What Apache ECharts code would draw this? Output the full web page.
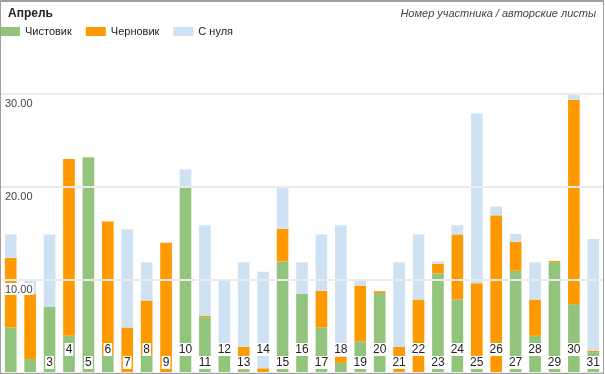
<!DOCTYPE html>
<html>
<head>
<meta charset="utf-8">
<script src="https://cdn.jsdelivr.net/npm/echarts@6/dist/echarts.min.js"></script>
<style>
html,body{margin:0;padding:0;background:#fff;}
#wrap{position:relative;width:605px;height:374px;}
#chart{position:absolute;left:0;top:0;width:605px;height:374px;}
#frame{position:absolute;left:0;top:0;width:604px;height:374px;box-sizing:border-box;border:1px solid #a0a0a0;border-top:2px solid #a0a0a0;pointer-events:none;}
</style>
</head>
<body>
<div id="wrap"><div id="chart"></div><div id="frame"></div></div>
<script>
const categories = ['1','2','3','4','5','6','7','8','9','10','11','12','13','14','15','16','17','18','19','20','21','22','23','24','25','26','27','28','29','30','31'];
const seriesNames = ['Чистовик','Черновик','С нуля'];
const clean = [4.9,1.5,7.1,4.0,23.2,2.0,0,1.9,0,20.0,6.0,2.0,0.4,0,12.0,8.5,4.9,1.1,3.4,8.6,0,0,10.7,7.9,1.75,0,11.0,4.0,11.9,7.4,2.25];
const draft = [7.5,7.0,0,19.0,0,14.3,4.9,5.9,14.0,0,0.15,0,2.4,0.5,3.5,0,3.95,0.65,6.0,0.2,2.8,7.9,1.05,7.0,7.9,16.95,3.1,3.9,0.15,21.95,0.15];
const scratch = [2.5,1.5,7.8,0,0,0,10.55,4.1,0,1.9,9.75,8.0,9.1,10.4,4.5,3.4,6.05,14.15,0.55,0,9.1,7.0,0.25,1.0,18.25,0.95,0.85,4.0,0,0.6,12.0];
const yTicks = [10, 20, 30];
const titleText = 'Апрель';
const subtitleText = 'Номер участника / авторские листы';
const colors = ['#93c47d','#ff9900','#cfe2f3'];

const chart = echarts.init(document.getElementById('chart'), null, {renderer:'canvas'});
const font = '"Liberation Sans", Arial, sans-serif';
function bar(name, data, color){
  return {name, type:'bar', stack:'s', data, barWidth:'60%',
    itemStyle:{color}, emphasis:{disabled:true}};
}
chart.setOption({
  animation:false,
  color:colors,
  title:[
    {text:titleText, left:8, top:8, padding:0,
     textStyle:{fontFamily:font, fontSize:12, fontWeight:'bold', color:'#222'}},
    {text:subtitleText, right:9, top:8, padding:0,
     textStyle:{fontFamily:font, fontSize:11, fontStyle:'italic', fontWeight:'normal', color:'#444'}}
  ],
  legend:{left:0, top:26, padding:0, itemWidth:20, itemHeight:9, itemGap:14, icon:'rect',
    textStyle:{fontFamily:font, fontSize:11, color:'#222', padding:[0,0,0,0]},
    data:seriesNames},
  grid:{left:1, right:2, top:94, bottom:1, containLabel:false},
  xAxis:{type:'category', data:categories,
    axisLine:{show:false}, axisTick:{show:false},
    axisLabel:{inside:true, interval:0, margin:4,
      formatter:(v,i)=> i<2 ? '' : (i%2===0 ? '{w|'+v+'}' : '{w|'+v+'}\n{g| }'),
      rich:{w:{fontFamily:font, fontSize:12, color:'#222', backgroundColor:'#fff', padding:[1,1,0,1], lineHeight:13},
            g:{fontSize:8, lineHeight:13}}},
    z:10},
  yAxis:{type:'value', min:0, max:yTicks[yTicks.length-1], interval:yTicks[0],
    axisLine:{show:false}, axisTick:{show:false},
    splitLine:{lineStyle:{color:'#ebebeb', width:2}},
    axisLabel:{inside:true, margin:4, verticalAlign:'top', showMinLabel:false,
      formatter:v=>'{g| }\n{w|'+v.toFixed(2)+'}',
      rich:{w:{fontFamily:font, fontSize:11, color:'#444', backgroundColor:'#fff', padding:[1,1,0,0], lineHeight:12},
            g:{fontSize:2, lineHeight:3}}},
    z:10},
  series:[bar(seriesNames[0], clean, colors[0]), bar(seriesNames[1], draft, colors[1]), bar(seriesNames[2], scratch, colors[2])]
});
</script>
</body>
</html>
